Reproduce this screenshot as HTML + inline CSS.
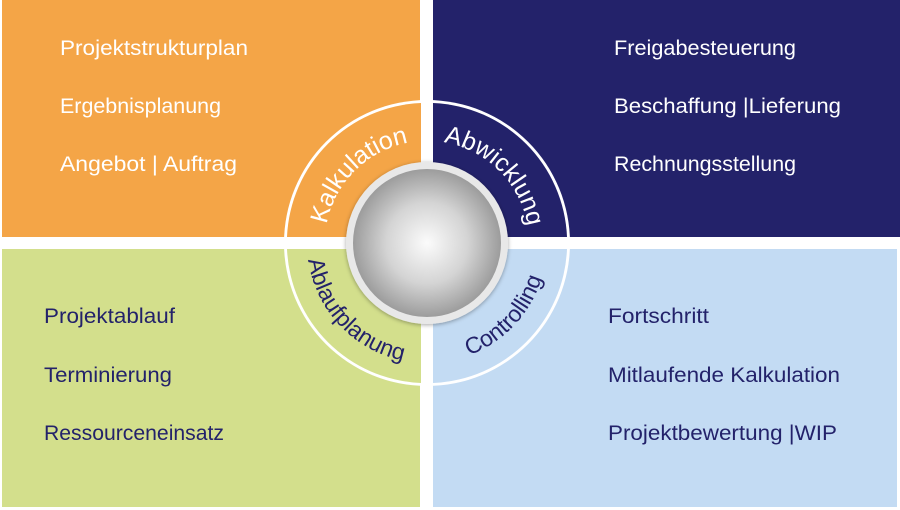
<!DOCTYPE html>
<html><head><meta charset="utf-8"><style>
html,body{margin:0;padding:0;background:#fff;width:900px;height:510px;overflow:hidden}
svg{display:block}
text{font-family:"Liberation Sans",sans-serif}
</style></head><body>
<svg width="900" height="510" viewBox="0 0 900 510">
<defs>
<radialGradient id="sph" cx="0.5" cy="0.5" r="0.5">
<stop offset="0" stop-color="#fbfbfb"/>
<stop offset="0.55" stop-color="#d4d4d4"/>
<stop offset="1" stop-color="#9c9c9c"/>
</radialGradient>
<filter id="sh" x="-20%" y="-20%" width="140%" height="140%"><feDropShadow dx="0" dy="1" stdDeviation="2" flood-color="#000" flood-opacity="0.35"/></filter>
<path id="pK" d="M325,243 A102,102 0 0 1 427,141"/>
<path id="pA" d="M427,141 A102,102 0 0 1 529,243"/>
<path id="pB" d="M307,243 A120,120 0 0 0 427,363"/>
<path id="pC" d="M427,363 A120,120 0 0 0 547,243"/>
</defs>
<rect x="2" y="0" width="418" height="237" fill="#f4a547"/>
<rect x="433" y="0" width="467" height="237" fill="#23226a"/>
<rect x="2" y="249" width="418" height="258" fill="#d3df8c"/>
<rect x="433" y="249" width="464" height="258" fill="#c3dbf3"/>
<circle cx="427" cy="243" r="143" fill="#fff"/>
<path d="M421,237 L287,237 A140,140 0 0 1 421,103 Z" fill="#f4a547"/>
<path d="M433,237 L567,237 A140,140 0 0 0 433,103 Z" fill="#23226a"/>
<path d="M421,249 L287,249 A140,140 0 0 0 421,383 Z" fill="#d3df8c"/>
<path d="M433,249 L567,249 A140,140 0 0 1 433,383 Z" fill="#c3dbf3"/>
<circle cx="427" cy="243" r="81" fill="#e8e8e8" filter="url(#sh)"/>
<circle cx="427" cy="243" r="74" fill="url(#sph)"/>
<text font-size="25" fill="#fff"><textPath href="#pK" startOffset="50%" text-anchor="middle">Kalkulation</textPath></text>
<text font-size="25" fill="#fff"><textPath href="#pA" startOffset="50%" text-anchor="middle">Abwicklung</textPath></text>
<text font-size="23" fill="#23226a"><textPath href="#pB" startOffset="48%" text-anchor="middle">Ablaufplanung</textPath></text>
<text font-size="23" fill="#23226a"><textPath href="#pC" startOffset="52%" text-anchor="middle">Controlling</textPath></text>
<g font-size="21" fill="#fff">
<text x="60" y="55" textLength="188" lengthAdjust="spacingAndGlyphs">Projektstrukturplan</text>
<text x="60" y="113" textLength="161" lengthAdjust="spacingAndGlyphs">Ergebnisplanung</text>
<text x="60" y="171" textLength="177" lengthAdjust="spacingAndGlyphs">Angebot | Auftrag</text>
<text x="614" y="55" textLength="182" lengthAdjust="spacingAndGlyphs">Freigabesteuerung</text>
<text x="614" y="113" textLength="227" lengthAdjust="spacingAndGlyphs">Beschaffung |Lieferung</text>
<text x="614" y="171" textLength="182" lengthAdjust="spacingAndGlyphs">Rechnungsstellung</text>
</g>
<g font-size="21" fill="#23226a">
<text x="44" y="323" textLength="131" lengthAdjust="spacingAndGlyphs">Projektablauf</text>
<text x="44" y="382" textLength="128" lengthAdjust="spacingAndGlyphs">Terminierung</text>
<text x="44" y="440" textLength="180" lengthAdjust="spacingAndGlyphs">Ressourceneinsatz</text>
<text x="608" y="323" textLength="101" lengthAdjust="spacingAndGlyphs">Fortschritt</text>
<text x="608" y="382" textLength="232" lengthAdjust="spacingAndGlyphs">Mitlaufende Kalkulation</text>
<text x="608" y="440" textLength="229" lengthAdjust="spacingAndGlyphs">Projektbewertung |WIP</text>
</g>
</svg>
</body></html>
